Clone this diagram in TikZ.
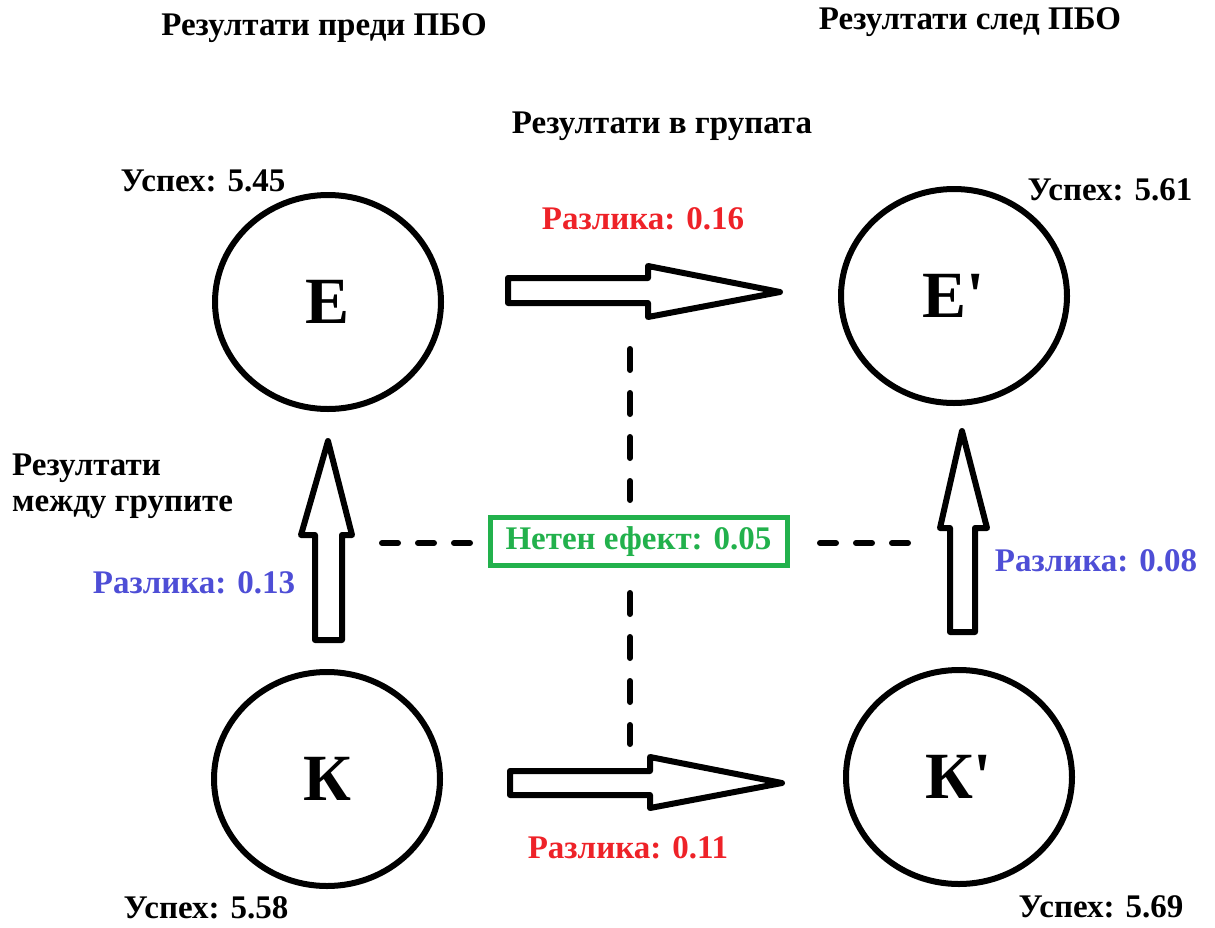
\documentclass[tikz,border=0pt]{standalone}
\usepackage{fontspec}
\newfontfamily\tnr{Liberation Serif}
\usetikzlibrary{shapes.geometric}
\definecolor{dred}{RGB}{238,34,40}
\definecolor{dblue}{RGB}{78,78,214}
\definecolor{dgreen}{RGB}{34,177,76}
\begin{document}
\begin{tikzpicture}[x=1pt,y=-1pt,
  font={\tnr\bfseries\fontsize{33}{38}\selectfont},
  group/.style={draw, line width=6pt, ellipse, minimum width=226pt, minimum height=214pt, inner sep=0pt,
    font={\tnr\bfseries\fontsize{66}{72}\selectfont}},
  blockarrow/.style={draw, line width=6pt, line join=round, fill=white},
  link/.style={draw, line width=6pt, dash pattern=on 16pt off 20pt, line cap=round},
  vlink/.style={draw, line width=6pt, dash pattern=on 21pt off 23pt, line cap=round},
  lbl/.style={inner sep=0pt},
  netbox/.style={draw=dgreen, line width=5pt, text=dgreen, minimum width=297pt, minimum height=48pt, inner sep=0pt}
]
\useasboundingbox (0,0) rectangle (1215,927);

% groups
\node[group] (E)  at (328,302) {Е};
\node[group] (E2) at (954,296) {Е'};
\node[group] (K)  at (327,779) {К};
\node[group] (K2) at (959,777) {К'};

% block arrows
\draw[blockarrow] (508,278) -- (648,278) -- (648,266) -- (780,292) -- (648,317) -- (648,303) -- (508,303) -- cycle;
\draw[blockarrow] (510,771) -- (650,771) -- (650,757) -- (782,783) -- (650,808) -- (650,795) -- (510,795) -- cycle;
\draw[blockarrow] (315,640) -- (315,535) -- (301,535) -- (328,441) -- (352,535) -- (342,535) -- (342,640) -- cycle;
\draw[blockarrow] (950,632) -- (950,528) -- (940,528) -- (962,431) -- (987,528) -- (975,528) -- (975,632) -- cycle;

% net effect
\node[netbox] (net) at (638.5,541.5) {Нетен ефект: 0.05};

\coordinate (topa) at (630,349);
\coordinate (bota) at (630,744);
\coordinate (lefta) at (382,543);
\coordinate (righta) at (913,543);
\draw[vlink] (topa) -- (630,500);
\draw[vlink] (630,593) -- (bota);
\draw[link] (lefta) -- (475,543);
\draw[link] (820,543) -- (righta);

% labels
\node[lbl] (t1) at (324,28) {Резултати преди ПБО};
\node[lbl] (t2) at (970,22) {Резултати след ПБО};
\node[lbl] (t3) at (662,126) {Резултати в групата};
\node[lbl] (s1) at (203,181) {Успех: 5.45};
\node[lbl] (s2) at (1110,190) {Успех: 5.61};
\node[lbl] (s3) at (206,908) {Успех: 5.58};
\node[lbl] (s4) at (1101,907) {Успех: 5.69};
\node[lbl, text=dred] (d1) at (643,219) {Разлика: 0.16};
\node[lbl, text=dred] (d2) at (628,848) {Разлика: 0.11};
\node[lbl, text=dblue] (d3) at (194,583) {Разлика: 0.13};
\node[lbl, text=dblue] (d4) at (1096,561) {Разлика: 0.08};
\node[lbl, anchor=west, align=left] (bg) at (12,486) {Резултати\\[-2pt]между групите};
\end{tikzpicture}
\end{document}
